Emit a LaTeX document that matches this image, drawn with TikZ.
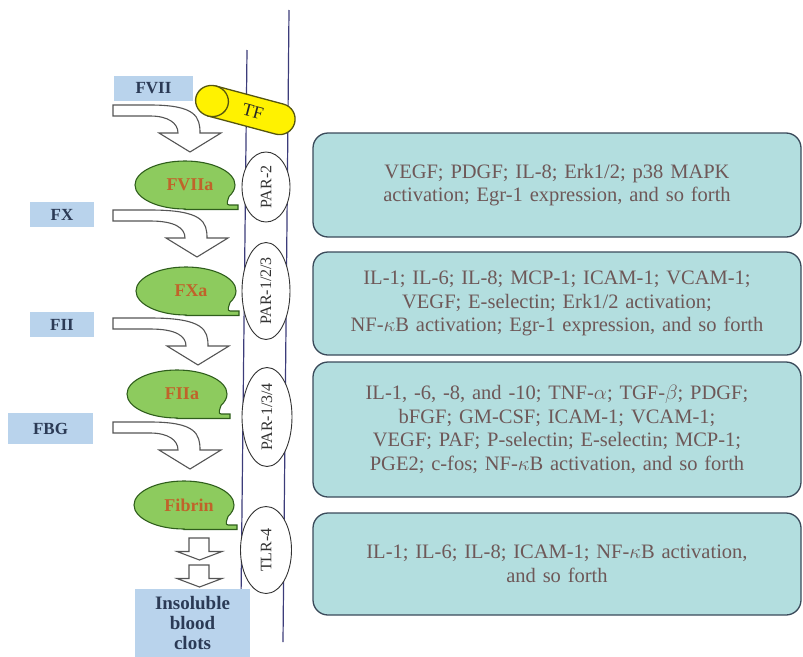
\documentclass[tikz,border=0pt]{standalone}
\usepackage{fontspec}
\setmainfont{Liberation Serif}
\usetikzlibrary{shapes.geometric}
\definecolor{LBlue}{HTML}{B9D3EC}
\definecolor{LText}{HTML}{2B3A55}
\definecolor{ITeal}{HTML}{B3DEDF}
\definecolor{IEdge}{HTML}{3A4A5A}
\definecolor{IText}{HTML}{6E5858}
\definecolor{BGreen}{HTML}{8DCB5E}
\definecolor{BEdge}{HTML}{2F5E1C}
\definecolor{BText}{HTML}{C0632A}
\definecolor{TFYellow}{HTML}{FFF200}
\definecolor{TFEdge}{HTML}{55550F}
\definecolor{Mem}{HTML}{3C3C7A}
\definecolor{AGray}{HTML}{555555}

\begin{document}
\begin{tikzpicture}[x=1pt,y=1pt,
  lbl/.style={fill=LBlue,text=LText,inner sep=0pt,minimum height=25pt,
    font=\bfseries\fontsize{17}{20}\selectfont},
  info/.style={draw=IEdge,fill=ITeal,line width=1.3pt,rounded corners=15pt,
    minimum width=488pt,text width=470pt,align=center,text=IText,
    font=\fontsize{20.5}{23.5}\selectfont},
  par/.style={ellipse,draw=black!80,fill=white,line width=0.9pt,inner sep=0pt,
    rotate=90,text=black!80,font=\fontsize{16}{18}\selectfont},
  blob/.style={draw=BEdge,fill=BGreen,line width=1.1pt},
  btxt/.style={text=BText,font=\bfseries\fontsize{18}{20}\selectfont},
  blk/.style={draw=AGray,fill=white,line width=1.1pt,line join=miter},
  mem/.style={draw=Mem,line width=1.2pt},
  tfbody/.style={draw=TFEdge,fill=TFYellow,line width=1.3pt}
]
  \useasboundingbox (0,0) rectangle (803,-656);
  \coordinate (lt) at (247,-50);
  \coordinate (lb) at (241,-600);
  \coordinate (rt) at (289,-10);
  \coordinate (rb) at (283,-642);
  \draw[mem] (lt) -- (lb);
  \draw[mem] (rt) -- (rb);

  \node[lbl,minimum width=79pt] (fvii) at (153.5,-88) {FVII};
  \node[lbl,minimum width=64pt] (fx) at (62,-214.5) {FX};
  \node[lbl,minimum width=64pt] (fii) at (62,-324.5) {FII};
  \node[lbl,minimum width=85pt,minimum height=31pt] (fbg) at (50.5,-428.5) {FBG};
  \node[lbl,minimum width=115pt,minimum height=68pt,align=center,
    font=\bfseries\fontsize{19}{20}\selectfont] (clots) at (192.5,-622.5)
    {Insoluble\\blood\\clots};

  \foreach \ty/\hx in {105/190,210/197,318/198,422/190}
    {\draw[blk] (113,-\ty) -- (150,-\ty) .. controls (\hx+6,-\ty) and (\hx+10,-\ty-12) ..
      (\hx+10,-\ty-28) -- (\hx+31,-\ty-28) -- (\hx,-\ty-47) -- (\hx-31,-\ty-28) --
      (\hx-12,-\ty-28) .. controls (\hx-12,-\ty-18) and (\hx-22,-\ty-11) ..
      (150,-\ty-11) -- (113,-\ty-11) -- cycle;}
  \foreach \ty in {538,565}
    {\draw[blk] (189,-\ty) -- (209,-\ty) -- (209,-\ty-13.5) -- (222,-\ty-13.5) --
      (199.5,-\ty-22) -- (177,-\ty-13.5) -- (189,-\ty-13.5) -- cycle;}

  \foreach \nm/\cx/\cy/\txt in {fviia/185/185/FVIIa,fxa/186/291/FXa,
      fiia/177/394/FIIa,fibrin/184/505/Fibrin}
    {\draw[blob,shift={(\cx,-\cy)}] (0,-24) arc[start angle=270,end angle=-28,
      x radius=50,y radius=24] to[out=-110,in=180] (44,-20) -- (53,-20) --
      (53,-24.5) -- (0,-24.5) -- cycle;
     \node[btxt] (\nm) at (\cx+5,-\cy) {\txt};}

  \begin{scope}[shift={(212,-101)},rotate=-15]
    \draw[tfbody] (0,15.5) -- (70,15.5) arc[start angle=90,end angle=-90,radius=15.5]
      -- (0,-15.5) -- cycle;
    \draw[tfbody] (0,0) ellipse[x radius=16.5,y radius=15.5];
  \end{scope}
  \node[rotate=-15,font=\fontsize{18}{20}\selectfont,text=black!85] (tf) at (253,-112) {TF};

  \node[par,minimum width=70pt,minimum height=48pt] (par2) at (266,-187) {PAR-2};
  \node[par,minimum width=97pt,minimum height=48pt] (par123) at (266,-291) {PAR-1/2/3};
  \node[par,minimum width=99pt,minimum height=50pt] (par134) at (267,-417) {PAR-1/3/4};
  \node[par,minimum width=87pt,minimum height=51pt] (tlr4) at (266,-550) {TLR-4};

  \node[info,minimum height=104pt] (eff2) at (557,-185)
    {VEGF; PDGF; IL-8; Erk1/2; p38 MAPK\\activation; Egr-1 expression, and so forth};
  \node[info,minimum height=103pt] (eff123) at (557,-303.5)
    {IL-1; IL-6; IL-8; MCP-1; ICAM-1; VCAM-1;\\VEGF; E-selectin; Erk1/2 activation;\\
     NF-$\kappa$B activation; Egr-1 expression, and so forth};
  \node[info,minimum height=135pt] (eff134) at (557,-429.5)
    {IL-1, -6, -8, and -10; TNF-$\alpha$; TGF-$\beta$; PDGF;\\bFGF; GM-CSF; ICAM-1; VCAM-1;\\
     VEGF; PAF; P-selectin; E-selectin; MCP-1;\\PGE2; c-fos; NF-$\kappa$B activation, and so forth};
  \node[info,minimum height=102pt] (efftlr) at (557,-564)
    {IL-1; IL-6; IL-8; ICAM-1; NF-$\kappa$B activation,\\and so forth};
\end{tikzpicture}
\end{document}
